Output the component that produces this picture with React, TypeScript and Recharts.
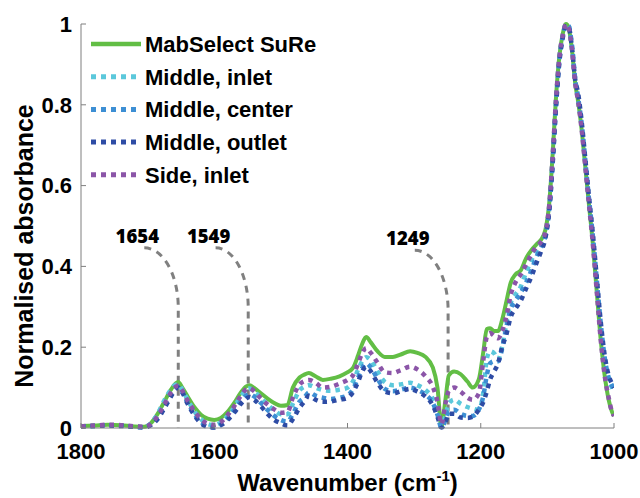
import React from 'react';
import { LineChart, Line, XAxis, YAxis, Legend, ReferenceLine, Label } from 'recharts';

const wavenumbers = [1800,1780,1760,1740,1720,1705,1695,1685,1675,1665,1658,1654,1648,1640,1630,1620,1610,1600,1590,1580,1570,1560,1552,1547,1540,1530,1520,1510,1500,1490,1482,1472,1465,1458,1448,1437,1425,1412,1401,1392,1384,1378,1372,1365,1355,1344,1332,1320,1306,1295,1283,1272,1265,1259,1253,1248,1240,1230,1220,1212,1203,1196,1191,1186,1180,1174,1168,1161,1155,1148,1140,1132,1124,1116,1110,1103,1097,1092,1087,1082,1077,1072,1068,1063,1058,1054,1048,1043,1038,1032,1026,1020,1014,1008,1003,1000];

const mabSelect = [.005,.006,.008,.007,.004,.003,.012,.035,.065,.095,.11,.114,.1,.078,.052,.033,.023,.02,.025,.04,.062,.088,.103,.106,.099,.086,.073,.062,.055,.057,.1,.125,.132,.136,.128,.119,.122,.128,.137,.148,.18,.208,.225,.212,.19,.176,.176,.182,.19,.186,.176,.15,.1,.003,.07,.13,.14,.133,.115,.1,.12,.19,.245,.247,.24,.24,.267,.317,.36,.38,.39,.42,.44,.455,.465,.49,.56,.68,.82,.92,.975,1,.99,.935,.85,.81,.73,.645,.56,.46,.34,.22,.13,.07,.04,.03];
const middleInlet = [.004,.005,.007,.006,.003,.002,.012,.035,.068,.095,.107,.108,.095,.07,.042,.022,.01,.007,.014,.03,.052,.078,.095,.098,.09,.075,.058,.044,.034,.034,.06,.093,.102,.106,.1,.094,.092,.095,.099,.115,.145,.165,.175,.168,.14,.114,.106,.108,.112,.106,.094,.072,.04,.003,.03,.06,.07,.06,.052,.048,.045,.09,.17,.19,.185,.17,.2,.265,.31,.33,.35,.385,.415,.44,.455,.48,.55,.67,.81,.915,.97,1,.995,.945,.86,.815,.74,.655,.57,.475,.36,.25,.165,.12,.1,.09];
const middleCenter = [.004,.005,.007,.006,.003,.002,.009,.028,.055,.085,.1,.103,.09,.063,.035,.015,.005,.002,.009,.024,.044,.066,.08,.084,.078,.062,.045,.03,.02,.016,.035,.065,.075,.088,.08,.075,.072,.075,.08,.095,.125,.148,.16,.15,.122,.097,.091,.095,.1,.094,.083,.062,.033,.001,.02,.04,.045,.035,.03,.03,.045,.08,.13,.16,.165,.165,.195,.255,.295,.315,.335,.36,.39,.425,.445,.475,.545,.66,.8,.91,.968,.998,.995,.945,.86,.82,.745,.66,.575,.48,.37,.26,.175,.125,.105,.095];
const middleOutlet = [.004,.005,.006,.005,.003,.002,.007,.022,.048,.078,.096,.1,.088,.06,.032,.012,.003,.001,.007,.02,.038,.06,.073,.077,.07,.054,.035,.02,.012,.006,.022,.05,.065,.08,.07,.065,.066,.07,.074,.088,.115,.14,.152,.14,.112,.09,.086,.091,.097,.09,.078,.056,.028,.001,.015,.035,.035,.026,.025,.028,.045,.065,.09,.12,.14,.16,.2,.235,.275,.295,.315,.345,.375,.41,.435,.47,.54,.655,.795,.905,.965,.995,.992,.94,.86,.83,.75,.665,.58,.485,.375,.265,.18,.13,.11,.1];
const sideInlet = [.004,.006,.008,.007,.004,.003,.01,.03,.058,.088,.102,.105,.093,.068,.042,.022,.011,.008,.015,.032,.054,.08,.096,.099,.091,.073,.058,.046,.038,.04,.075,.108,.116,.119,.112,.1,.102,.11,.118,.13,.16,.185,.198,.186,.162,.138,.136,.143,.152,.145,.128,.102,.065,.01,.06,.092,.1,.09,.075,.07,.085,.17,.225,.235,.228,.222,.24,.28,.33,.36,.38,.405,.43,.45,.46,.485,.555,.675,.815,.918,.972,1,.99,.935,.85,.81,.73,.645,.56,.46,.34,.22,.13,.075,.04,.03];

const seriesNames = ['MabSelect SuRe', 'Middle, inlet', 'Middle, center', 'Middle, outlet', 'Side, inlet'];
const seriesKeys = ['g', 'c', 'b', 'd', 'p'];
const seriesColors = ['#62BE45', '#5BC8DB', '#3D8FD4', '#2E4CA5', '#8B55A8'];

const xTicks = [1800, 1600, 1400, 1200, 1000];
const yTicks = [0, 0.2, 0.4, 0.6, 0.8, 1];

const peakLabels = ['1654', '1549', '1249'];
const peakPositions = [1654, 1549, 1249];
const peakLabelStarts = [1705, 1598, 1299];
const peakLabelLevels = [0.446, 0.446, 0.44];

const data = wavenumbers.map((w, i) => ({
  w,
  g: mabSelect[i],
  c: middleInlet[i],
  b: middleCenter[i],
  d: middleOutlet[i],
  p: sideInlet[i],
}));

const FONT = '"Liberation Sans", Arial, sans-serif';
const AXIS_GRAY = '#7f7f7f';

const makeArcShape = (label: string) => (props: any) => {
  const { x1, y1, x2, y2 } = props;
  const ry = 60;
  const rx = x2 - x1;
  const d = `M ${x1} ${y1} A ${rx} ${ry} 0 0 1 ${x2} ${y1 + ry} L ${x2} ${y2}`;
  return (
    <g>
      <path d={d} fill="none" stroke="#808080" strokeWidth={3} strokeDasharray="7 6" />
      <text x={x1 - 7} y={y1 - 5} textAnchor="middle" fontFamily='"Open Sans", sans-serif' fontWeight={800} fontSize={18.5} fill="#000">
        {label}
      </text>
    </g>
  );
};

const renderLegend = () => (
  <svg width={260} height={170}>
    {seriesNames.map((name, i) => {
      const y = 16 + i * 32.7;
      return (
        <g key={name}>
          <line
            x1={3}
            x2={53}
            y1={y}
            y2={y}
            stroke={seriesColors[i]}
            strokeWidth={i === 0 ? 4.5 : 5}
            strokeDasharray={i === 0 ? undefined : '5 5'}
          />
          <text x={57} y={y + 8} fontFamily={FONT} fontWeight="bold" fontSize={22} fill="#000">
            {name}
          </text>
        </g>
      );
    })}
  </svg>
);

const yFormatter = (v: number) => (v === 0 ? '0' : v === 1 ? '1' : String(v));

export default function App() {
  return (
    <div>
      <style>{'body{margin:0;}'}</style>
      <LineChart width={640} height={498} data={data} margin={{ top: 24, right: 26, left: 0, bottom: 0 }}>
        <XAxis
          dataKey="w"
          type="number"
          domain={[1000, 1800]}
          reversed
          ticks={xTicks}
          allowDataOverflow
          height={70}
          stroke={AXIS_GRAY}
          tickSize={-5}
          tickMargin={20}
          tick={{ fill: '#000', fontSize: 22, fontWeight: 'bold', fontFamily: FONT }}
        >
          <Label
            content={(props: any) => {
              const vb = props.viewBox;
              const cx = vb.x + vb.width / 2;
              return (
                <text x={cx} y={491} textAnchor="middle" fontFamily={FONT} fontWeight="bold" fontSize={24} fill="#000">
                  Wavenumber (cm
                  <tspan fontSize={15} dy={-10}>-1</tspan>
                  <tspan dy={10}>)</tspan>
                </text>
              );
            }}
          />
        </XAxis>
        <YAxis
          type="number"
          domain={[0, 1]}
          ticks={yTicks}
          width={81}
          stroke={AXIS_GRAY}
          tickSize={-5}
          tickMargin={14}
          tickFormatter={yFormatter}
          tick={{ fill: '#000', fontSize: 22, fontWeight: 'bold', fontFamily: FONT }}
        >
          <Label
            content={(props: any) => {
              const vb = props.viewBox;
              const cy = vb.y + vb.height / 2 + 20;
              return (
                <text
                  x={33}
                  y={cy}
                  transform={`rotate(-90 33 ${cy})`}
                  textAnchor="middle"
                  fontFamily={FONT}
                  fontWeight="bold"
                  fontSize={25}
                  fill="#000"
                >
                  Normalised absorbance
                </text>
              );
            }}
          />
        </YAxis>
        {peakLabels.map((lab, i) => (
          <ReferenceLine
            key={lab}
            segment={[
              { x: peakLabelStarts[i], y: peakLabelLevels[i] },
              { x: peakPositions[i], y: 0 },
            ]}
            shape={makeArcShape(lab)}
          />
        ))}
        {seriesKeys.map((k, i) => (
          <Line
            key={k}
            dataKey={k}
            name={seriesNames[i]}
            type="monotone"
            stroke={seriesColors[i]}
            strokeWidth={i === 0 ? 4 : 4.5}
            strokeDasharray={i === 0 ? undefined : '4.5 5'}
            dot={false}
            isAnimationActive={false}
          />
        ))}
        <Legend
          layout="vertical"
          align="center"
          verticalAlign="middle"
          content={renderLegend}
          wrapperStyle={{ left: 88, top: 28, width: 260, height: 170 }}
        />
      </LineChart>
    </div>
  );
}
